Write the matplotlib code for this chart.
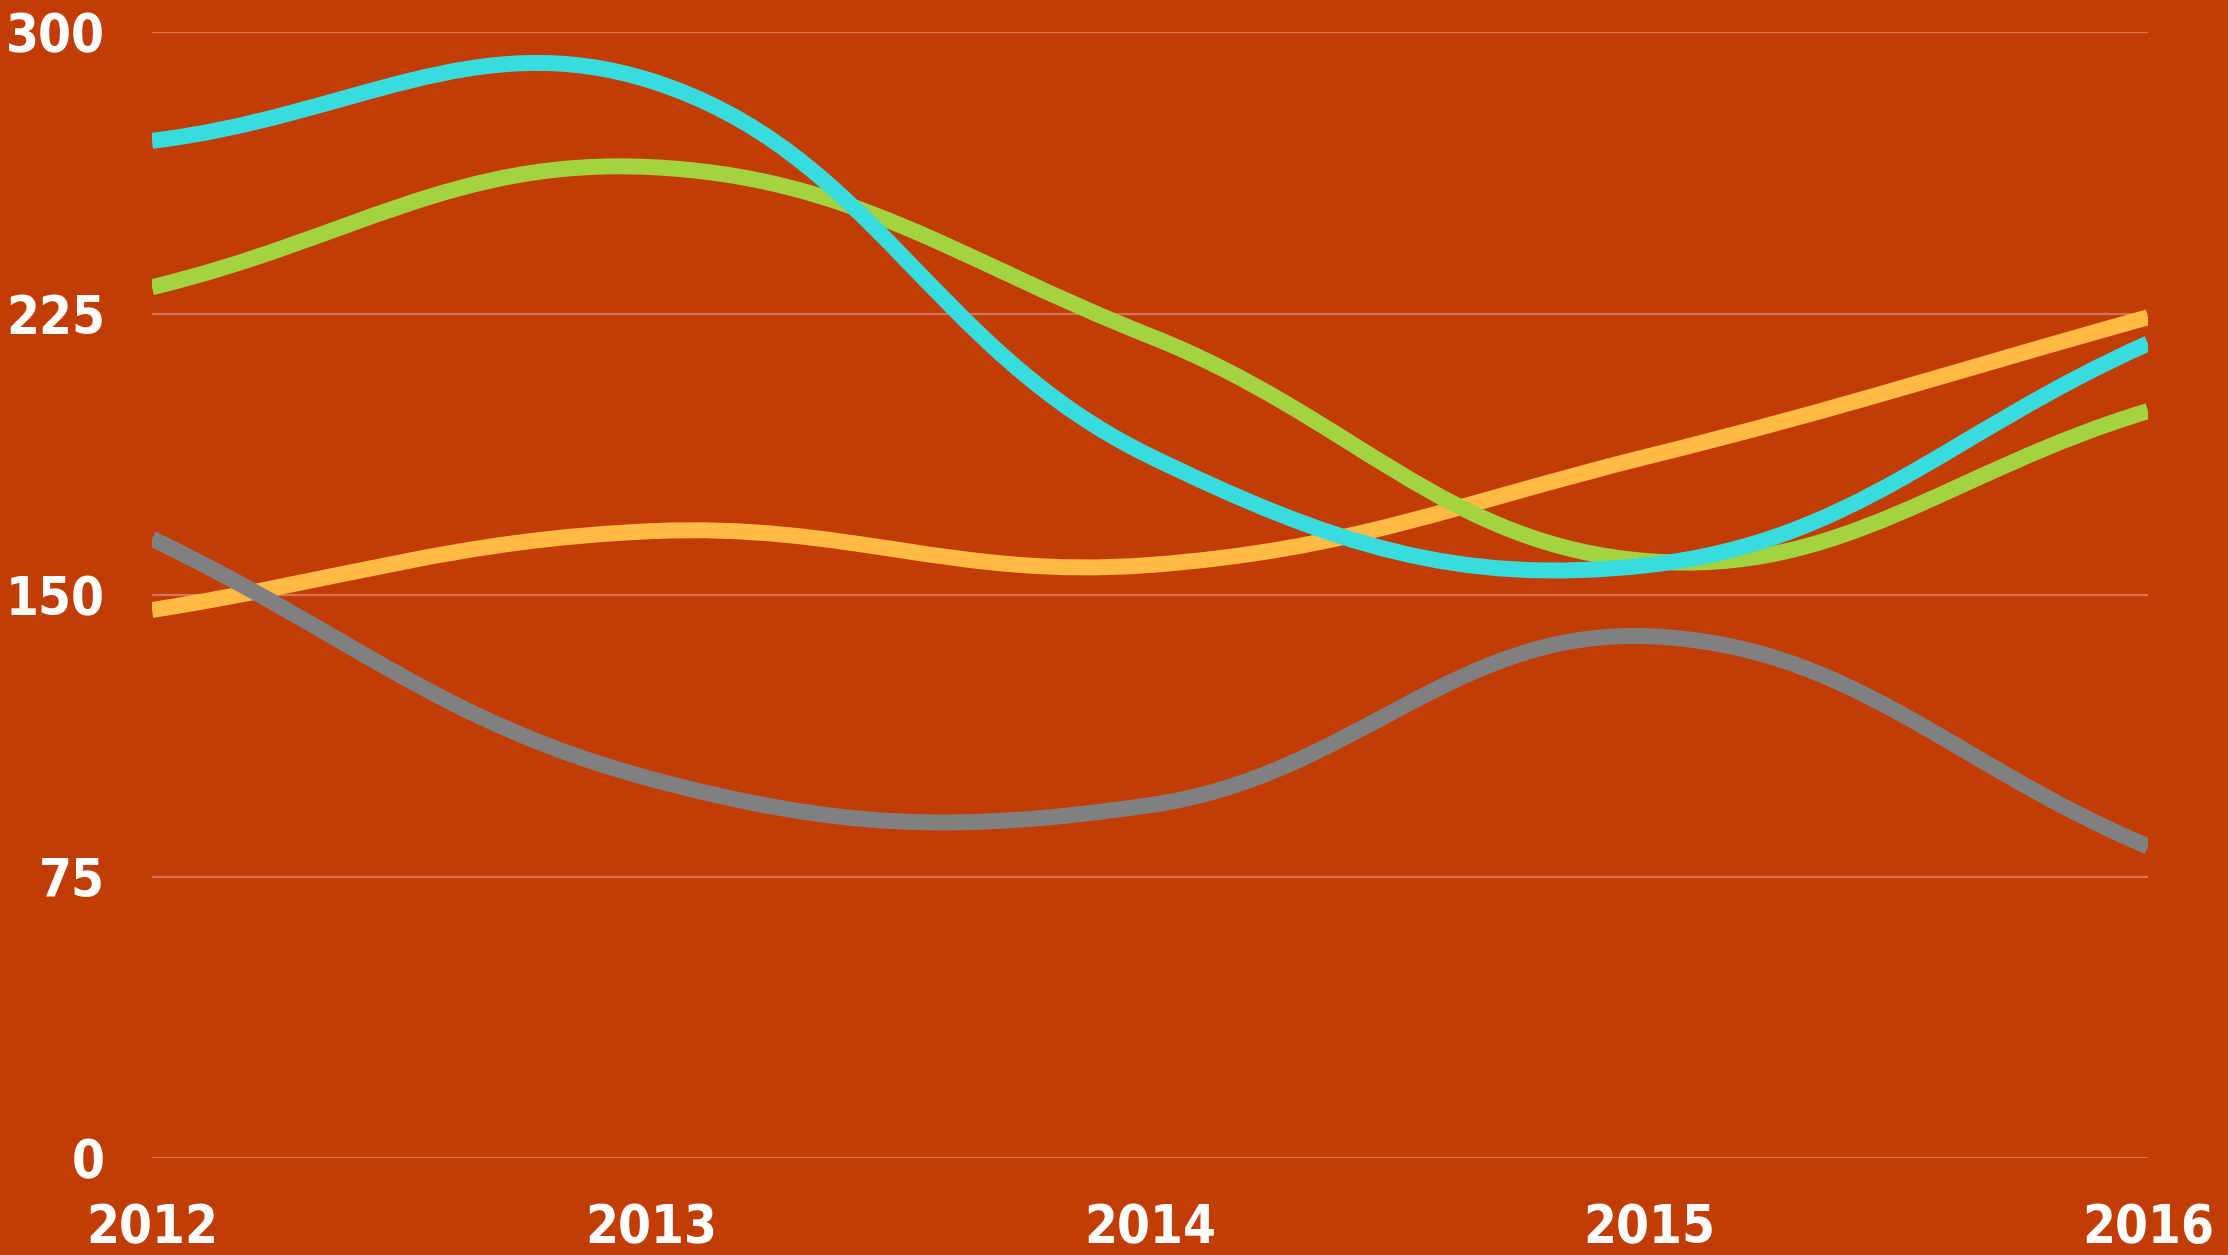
import numpy as np
import matplotlib
matplotlib.use('Agg')
import matplotlib.pyplot as plt
from matplotlib.path import Path
from matplotlib.patches import PathPatch

#data
years = [2012, 2013, 2014, 2015, 2016]
cyan = [271, 287, 187, 158, 217]
green = [232, 264, 219, 159, 199]
gray = [165, 101, 94, 139, 83]
yellow = [146, 167, 158, 187, 224]
yticks = [0, 75, 150, 225, 300]

bg = '#C23C06'
W, H = 2228, 1255
fig = plt.figure(figsize=(W/100, H/100), dpi=100, facecolor=bg)
ax = fig.add_axes([152/W, (H-1158)/H, (2148-152)/W, (1158-32)/H])
ax.set_facecolor(bg)
ax.set_xlim(2012, 2016)
ax.set_ylim(0, 300)

#pixels per unit, so the spline tension works like it does on screen
sx = (2148-152)/4.0
sy = (1158-32)/300.0

def smooth_path(xs, ys, t=0.4):
	#chart.js style bezier control points
	px = np.array(xs, float)*sx
	py = np.array(ys, float)*sy
	n = len(px)
	cin = [None]*n
	cout = [None]*n
	for i in range(n):
		p0 = (px[max(i-1, 0)], py[max(i-1, 0)])
		p1 = (px[i], py[i])
		p2 = (px[min(i+1, n-1)], py[min(i+1, n-1)])
		d01 = np.hypot(p1[0]-p0[0], p1[1]-p0[1])
		d12 = np.hypot(p2[0]-p1[0], p2[1]-p1[1])
		s = d01 + d12
		fa = t*d01/s if s else 0
		fb = t*d12/s if s else 0
		cin[i] = (p1[0]-fa*(p2[0]-p0[0]), p1[1]-fa*(p2[1]-p0[1]))
		cout[i] = (p1[0]+fb*(p2[0]-p0[0]), p1[1]+fb*(p2[1]-p0[1]))
	verts = [(px[0], py[0])]
	codes = [Path.MOVETO]
	for i in range(1, n):
		verts += [cout[i-1], cin[i], (px[i], py[i])]
		codes += [Path.CURVE4]*3
	verts = [(x/sx, y/sy) for x, y in verts]
	return Path(verts, codes)

for yt in yticks:
	ax.axhline(yt, color='white', alpha=0.3, lw=1.6, zorder=1)

series = [(yellow, '#FFBB44', 2), (gray, '#808080', 3), (green, '#A3D33F', 4), (cyan, '#38DCDC', 5)]
for vals, col, z in series:
	p = smooth_path(years, vals)
	ax.add_patch(PathPatch(p, facecolor='none', edgecolor=col, lw=11.5, capstyle='butt', joinstyle='round', zorder=z))

fnt = dict(family='DejaVu Sans', stretch='condensed', weight='bold', color='white', fontsize=38)
ax.set_yticks(yticks)
ax.set_yticklabels([str(v) for v in yticks], **fnt)
ax.set_xticks(years)
ax.set_xticklabels([str(v) for v in years], **fnt)
ax.tick_params(axis='y', length=0, pad=34)
ax.tick_params(axis='x', length=0, pad=32)
for s in ax.spines.values():
	s.set_visible(False)

fig.savefig('out.png', dpi=100, facecolor=bg)
